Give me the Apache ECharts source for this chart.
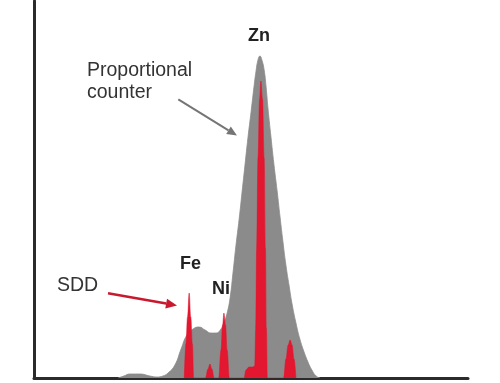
<!DOCTYPE html>
<html><head><meta charset="utf-8">
<script src="https://cdn.jsdelivr.net/npm/echarts@6/dist/echarts.min.js"></script>
<style>html,body{margin:0;padding:0;background:#fff}#c{width:500px;height:383px}</style>
</head><body><div id="c"></div>
<script>
// X: energy (keV), Y: counts (arbitrary units)
const energyRange = [1.63, 15.0];
const countsMax = 377;

// Proportional counter spectrum (grey)
const proportionalCounter = [
  [4.22,0],[4.40,2],[4.59,4],[4.90,4],[5.20,2],[5.42,1],[5.60,2],[5.76,5],[5.97,13],
  [6.16,29],[6.34,43],[6.53,49],[6.71,51],[6.90,48],[7.08,45],[7.24,45],[7.39,49],
  [7.48,55],[7.58,65],[7.67,80],[7.76,105],[7.85,132],[7.95,159],[8.04,186],[8.13,213],
  [8.22,240],[8.32,267],[8.41,292],[8.47,307],[8.53,318],[8.59,322],
  [8.65,318],[8.72,308],[8.78,291],[8.84,269],[8.93,241],[9.02,214],[9.12,187],[9.21,161],
  [9.30,136],[9.39,113],[9.49,92],[9.58,74],[9.70,55],[9.82,39],[9.95,26],[10.07,16],
  [10.19,8],[10.32,2],[10.44,0]
];

// SDD spectrum (red)
const sdd = [
  [6.26,0],[6.31,34],[6.36,61],[6.41,85],[6.46,61],[6.51,34],[6.55,0],
  [6.91,0],[6.99,9],[7.05,14],[7.11,9],[7.18,0],
  [7.32,0],[7.39,28],[7.44,53],[7.48,65],[7.53,53],[7.58,28],[7.65,0],
  [8.10,0],[8.16,8],[8.25,11],[8.36,11],[8.43,12],
  [8.46,50],[8.49,130],[8.53,220],[8.58,279],[8.62,297],[8.67,279],[8.72,220],[8.76,130],[8.79,50],[8.82,0],
  [9.32,0],[9.39,19],[9.46,33],[9.52,38],[9.58,33],[9.64,19],[9.70,0]
];

const peakLabels = ['Zn', 'Fe', 'Ni'];
const seriesNames = ['Proportional\ncounter', 'SDD'];

const chart = echarts.init(document.getElementById('c'), null, {renderer: 'canvas'});
const axisColor = '#2b2b2b';
const grey = '#8b8b8b';
const red = '#e3172f';
const regFont = '19.5px "Liberation Sans", Arial, sans-serif';
const boldFont = 'bold 18px "Liberation Sans", Arial, sans-serif';

chart.setOption({
  animation: false,
  grid: {left: 34, right: 32, top: 1, bottom: 5},
  xAxis: {
    type: 'value', min: energyRange[0], max: energyRange[1],
    axisLine: {show: true, onZero: false, lineStyle: {color: axisColor, width: 3}},
    axisTick: {show: false}, axisLabel: {show: false}, splitLine: {show: false}
  },
  yAxis: {
    type: 'value', min: 0, max: countsMax,
    axisLine: {show: true, lineStyle: {color: axisColor, width: 3}},
    axisTick: {show: false}, axisLabel: {show: false}, splitLine: {show: false}
  },
  series: [
    {
      name: 'Proportional counter', type: 'line', data: proportionalCounter,
      smooth: 0.5, symbol: 'none',
      lineStyle: {color: grey, width: 0.8}, areaStyle: {color: grey, opacity: 1}, z: 1
    },
    {
      name: 'SDD', type: 'line', data: sdd,
      smooth: 0.4, smoothMonotone: 'x', symbol: 'none',
      lineStyle: {color: red, width: 0.5}, areaStyle: {color: red, opacity: 1}, z: 2
    }
  ],
  graphic: [
    {type: 'text', z: 10, style: {text: peakLabels[0], x: 259, y: 36, font: boldFont, fill: '#222', align: 'center', verticalAlign: 'middle'}},
    {type: 'text', z: 10, style: {text: peakLabels[1], x: 190.5, y: 264.5, font: boldFont, fill: '#222', align: 'center', verticalAlign: 'middle'}},
    {type: 'text', z: 10, style: {text: peakLabels[2], x: 221, y: 289, font: boldFont, fill: '#222', align: 'center', verticalAlign: 'middle'}},
    {type: 'text', z: 10, style: {text: 'Proportional', x: 87, y: 71, font: regFont, fill: '#333', align: 'left', verticalAlign: 'middle'}},
    {type: 'text', z: 10, style: {text: 'counter', x: 87, y: 93, font: regFont, fill: '#333', align: 'left', verticalAlign: 'middle'}},
    {type: 'text', z: 10, style: {text: seriesNames[1], x: 57, y: 286, font: regFont, fill: '#333', align: 'left', verticalAlign: 'middle'}},
    {type: 'line', z: 10, shape: {x1: 178.3, y1: 99.3, x2: 228.5, y2: 130.3}, style: {stroke: '#757575', lineWidth: 2}},
    {type: 'polygon', z: 10, shape: {points: [[237, 135.5], [226.2, 134.1], [230.8, 126.5]]}, style: {fill: '#757575'}},
    {type: 'line', z: 10, shape: {x1: 108, y1: 293.3, x2: 166.2, y2: 303.6}, style: {stroke: '#c8192f', lineWidth: 2.5}},
    {type: 'polygon', z: 10, shape: {points: [[177, 305.5], [165.3, 308.5], [167.0, 298.7]]}, style: {fill: '#c8192f'}}
  ]
});
</script>
</body></html>
